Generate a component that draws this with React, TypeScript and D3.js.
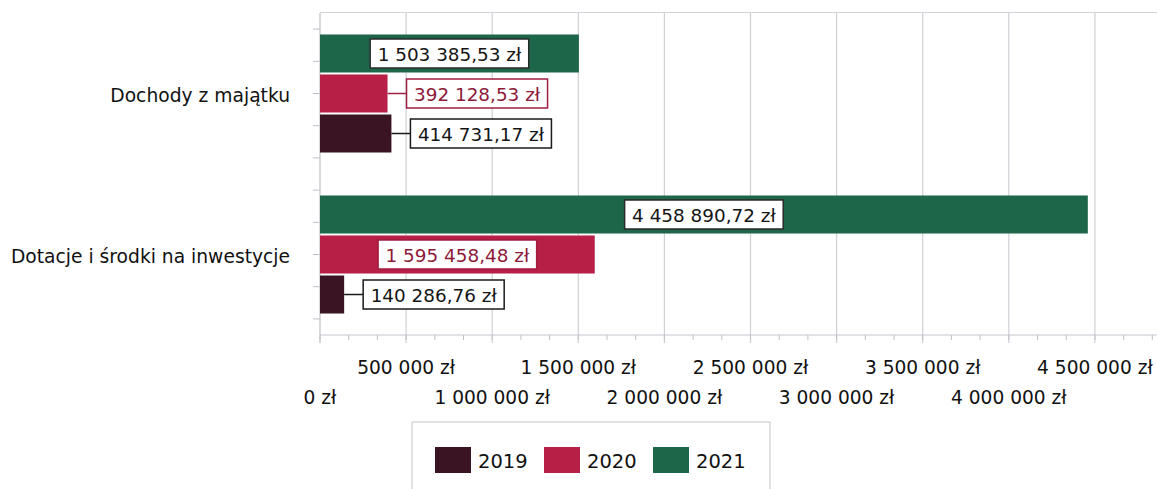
import React from "react";
import * as d3 from "d3";

const categories = ["Dochody z majątku", "Dotacje i środki na inwestycje"];
const seriesNames = ["2021", "2020", "2019"];
const values2019 = [414731.17, 140286.76];
const values2020 = [392128.53, 1595458.48];
const values2021 = [1503385.53, 4458890.72];
const tickValues = [0, 500000, 1000000, 1500000, 2000000, 2500000, 3000000, 3500000, 4000000, 4500000];
const legendNames = ["2019", "2020", "2021"];

const W = 1157;
const H = 489;
const FONT = "'DejaVu Sans', Verdana, sans-serif";
const FS_LABEL = 18.4;
const FS_AXIS = 18.6;
const FS_CAT = 18.7;
const FS_LEG = 19.5;

const colors: Record<string, string> = { "2019": "#3b1423", "2020": "#b71f47", "2021": "#1e664a" };
const labelText: Record<string, string> = { "2019": "#151515", "2020": "#8e1a3a", "2021": "#151515" };
const labelBorder: Record<string, string> = { "2019": "#1a1a1a", "2020": "#a01d40", "2021": "#2a2a2a" };

const fmtNum = (v: number, dec: number) => {
  const s = v.toFixed(dec);
  const [i, f] = s.split(".");
  const ii = i.replace(/\B(?=(\d{3})+(?!\d))/g, " ");
  return (f ? ii + "," + f : ii) + " zł";
};

let ctx: CanvasRenderingContext2D | null = null;
const measure = (t: string, fs: number) => {
  if (!ctx) {
    const c = document.createElement("canvas");
    ctx = c.getContext("2d");
  }
  if (!ctx) return t.length * fs * 0.55;
  ctx.font = `${fs}px ${FONT}`;
  return ctx.measureText(t).width;
};

export default function App() {
  const x = d3.scaleLinear().domain([0, 5000000]).range([320, 320 + 10 * 86.1]);
  const y = d3.scaleBand<string>().domain(categories).range([13, 335]).paddingInner(0.267).paddingOuter(0.1335);
  const ys = d3.scaleBand<string>().domain(seriesNames).range([0, y.bandwidth()]).paddingInner(0.05);
  const data: Record<string, number[]> = { "2019": values2019, "2020": values2020, "2021": values2021 };

  const minorTicks: number[] = [];
  for (let v = 0; v <= 5000000; v += 500000 / 3) minorTicks.push(v);

  const leftTicks: number[] = [];
  categories.forEach((c) => {
    const center = (y(c) as number) + y.bandwidth() / 2;
    for (let k = -2; k <= 2; k++) leftTicks.push(center + (k * y.step()) / 5);
  });

  const axisY = 335;

  return (
    <svg width={W} height={H} style={{ position: "absolute", left: 0, top: 0, background: "#fff" }} fontFamily={FONT}>
      {tickValues.slice(1).map((t) => (
        <line key={"g" + t} x1={x(t)} x2={x(t)} y1={13} y2={axisY + 8} stroke="#cfcfd6" strokeWidth={1.2} />
      ))}
      <line x1={320} x2={W} y1={12.5} y2={12.5} stroke="#d4d4da" strokeWidth={1.2} />
      <line x1={320} x2={W} y1={axisY} y2={axisY} stroke="#c8c8d0" strokeWidth={1.2} />
      {minorTicks.map((t, i) => (
        <line key={"m" + i} x1={x(t)} x2={x(t)} y1={axisY} y2={axisY + 5} stroke="#c0c0c8" strokeWidth={1} />
      ))}
      <line x1={320} x2={320} y1={13} y2={axisY + 8} stroke="#c0c0c8" strokeWidth={1.2} />
      {leftTicks.map((t, i) => (
        <line key={"l" + i} x1={313} x2={320} y1={t} y2={t} stroke="#c0c0c8" strokeWidth={1} />
      ))}
      {categories.map((c) => (
        <text key={c} x={290} y={(y(c) as number) + y.bandwidth() / 2 + 2} textAnchor="end" dominantBaseline="central" fontSize={FS_CAT} fill="#111">
          {c}
        </text>
      ))}
      {seriesNames.map((s) =>
        categories.map((c, ci) => {
          const v = data[s][ci];
          const by = (y(c) as number) + (ys(s) as number);
          return <rect key={s + c} x={x(0)} y={by} width={x(v) - x(0)} height={ys.bandwidth()} fill={colors[s]} />;
        })
      )}
      {seriesNames.map((s) =>
        categories.map((c, ci) => {
          const v = data[s][ci];
          const t = fmtNum(v, 2);
          const tw = measure(t, FS_LABEL);
          const bw = tw + 15;
          const bh = 29;
          const barEnd = x(v);
          const cy = (y(c) as number) + (ys(s) as number) + ys.bandwidth() / 2;
          const inside = bw + 10 < barEnd - x(0);
          const bx = inside ? (x(0) + barEnd) / 2 - bw / 2 : barEnd + 19;
          return (
            <g key={"lab" + s + c}>
              {!inside && <line x1={barEnd} x2={bx} y1={cy} y2={cy} stroke={labelBorder[s]} strokeWidth={1.5} />}
              <rect x={bx} y={cy - bh / 2} width={bw} height={bh} fill="#fff" stroke={labelBorder[s]} strokeWidth={1.5} />
              <text x={bx + bw / 2} y={cy + 1} textAnchor="middle" dominantBaseline="central" fontSize={FS_LABEL} fill={labelText[s]}>
                {t}
              </text>
            </g>
          );
        })
      )}
      {tickValues.map((t, i) => (
        <text key={"t" + t} x={x(t)} y={i % 2 === 1 ? 367 : 397} textAnchor="middle" dominantBaseline="central" fontSize={FS_AXIS} fill="#111">
          {fmtNum(t, 0)}
        </text>
      ))}
      <rect x={412} y={422} width={358} height={90} fill="#fff" stroke="#cfcfd4" strokeWidth={1.2} />
      {legendNames.map((s, i) => {
        const lx = [435, 544, 653][i];
        return (
          <g key={"lg" + s}>
            <rect x={lx} y={447} width={36} height={26} fill={colors[s]} />
            <text x={lx + 43} y={461} dominantBaseline="central" fontSize={FS_LEG} fill="#111">
              {s}
            </text>
          </g>
        );
      })}
    </svg>
  );
}
